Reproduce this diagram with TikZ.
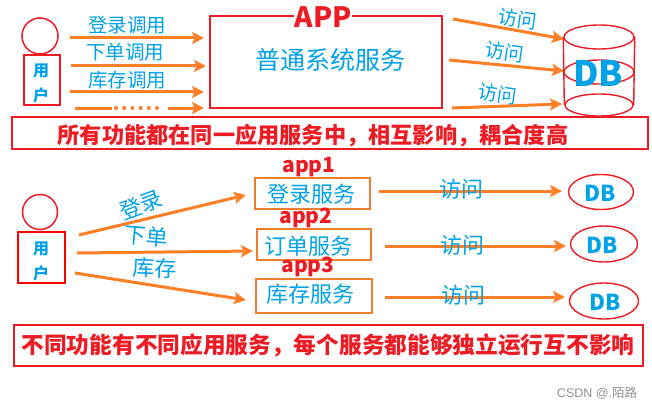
\documentclass[tikz,border=0pt]{standalone}
\usepackage{fontspec}
\setmainfont{Noto Sans CJK SC}
\newfontfamily\wmfont{Liberation Sans}
\usetikzlibrary{arrows.meta,shapes.geometric}
\definecolor{rd}{HTML}{ED1C24}
\definecolor{org}{HTML}{FF7F27}
\definecolor{boxorg}{HTML}{ED7D31}
\definecolor{blu}{HTML}{00A2E8}
\tikzset{
  fs/.style={font=\fontsize{#1}{#1}\selectfont},
  fsb/.style={font=\fontsize{#1}{#1}\selectfont\bfseries},
  flow/.style={draw=org,line width=3pt,-{Stealth[length=12pt,width=12pt,inset=2.5pt]}},
  redbox/.style={draw=rd,line width=2pt},
  orgbox/.style={draw=boxorg,line width=1.8pt},
  lbl/.style={text=blu,inner sep=0pt},
  rl/.style={text=rd,inner sep=0pt},
  head/.style={circle,draw=rd,line width=1.5pt,inner sep=0pt},
  ell/.style={ellipse,draw=rd,line width=1.4pt,inner sep=0pt},
}
\begin{document}
\begin{tikzpicture}[x=1pt,y=-1pt]
\useasboundingbox (0,0) rectangle (652,409);
\fill[white] (0,0) rectangle (652,409);
% top section
\node[head,minimum size=36pt] (h1) at (40,36) {};
\draw[redbox] (24,55) rectangle (60,105);
\node[lbl,fsb=16] (u1a) at (41,71) {用};
\node[lbl,fsb=16] (u1b) at (41,95) {户};
\coordinate (a1s) at (70,38); \coordinate (a1e) at (204,38);
\coordinate (a2s) at (71,66); \coordinate (a2e) at (206,66);
\coordinate (a3s) at (70,92); \coordinate (a3e) at (204,92);
\coordinate (a4s) at (75,108); \coordinate (a4a) at (112,108); \coordinate (a4b) at (116,108);
\coordinate (a4c) at (165,108); \coordinate (a4d) at (168,108); \coordinate (a4e) at (204,108);
\draw[flow] (a1s) -- (a1e);
\draw[flow] (a2s) -- (a2e);
\draw[flow] (a3s) -- (a3e);
\draw[draw=org,line width=3pt] (a4s) -- (a4a);
\draw[draw=org,line width=4pt,line cap=round,dash pattern=on 0pt off 8.2pt] (a4b) -- (a4c);
\draw[flow] (a4d) -- (a4e);
\node[lbl,fs=19.5] (t1) at (127,25) {登录调用};
\node[lbl,fs=19.5] (t2) at (125,52) {下单调用};
\node[lbl,fs=19.5] (t3) at (127,80) {库存调用};
\draw[redbox] (210,16) rectangle (442,108);
\node[fill=white,text=rd,fsb=28,inner sep=1pt] (app) at (323,17) {APP};
\node[lbl,fs=25] (svc) at (330,60) {普通系统服务};
\coordinate (b1s) at (453,19); \coordinate (b1e) at (564,39);
\coordinate (b2s) at (449,60); \coordinate (b2e) at (564,71);
\coordinate (b3s) at (452,108); \coordinate (b3e) at (562,104);
\draw[flow] (b1s) -- (b1e);
\draw[flow] (b2s) -- (b2e);
\draw[flow] (b3s) -- (b3e);
\node[lbl,fs=19.5,rotate=-8] (v1) at (518,19) {访问};
\node[lbl,fs=19.5,rotate=-8] (v2) at (505,52) {访问};
\node[lbl,fs=19.5,rotate=-8] (v3) at (498,94) {访问};
\node[ell,minimum width=70pt,minimum height=24pt] (c1) at (599,37) {};
\node[ell,minimum width=70pt,minimum height=24pt] (c2) at (599,72) {};
\node[ell,minimum width=68pt,minimum height=22pt] (c3) at (599,105) {};
\draw[rd,line width=1.4pt] (c1.west) -- (c3.west);
\draw[rd,line width=1.4pt] (c1.east) -- (c3.east);
\node[lbl,fsb=35] (db0) at (598,73) {DB};
\draw[redbox] (12,117) rectangle (648,149);
\node[rl,fsb=22.2] (m1) at (313,136) {所有功能都在同一应用服务中，相互影响，耦合度高};
% bottom section
\node[head,minimum size=35pt] (h2) at (40,212) {};
\draw[redbox,draw=red] (18,232) rectangle (65,283);
\node[lbl,fsb=16] (u2a) at (41,249) {用};
\node[lbl,fsb=16] (u2b) at (41,273) {户};
\coordinate (c1s) at (79,235); \coordinate (c1e) at (246,195);
\coordinate (c2s) at (77,253); \coordinate (c2e) at (253,251);
\coordinate (c3s) at (75,273); \coordinate (c3e) at (246,300);
\draw[flow] (c1s) -- (c1e);
\draw[flow] (c2s) -- (c2e);
\draw[flow] (c3s) -- (c3e);
\node[lbl,fs=22,rotate=20] (l1) at (141,205) {登录};
\node[lbl,fs=22,rotate=-5] (l2) at (146,236) {下单};
\node[lbl,fs=22,rotate=-2] (l3) at (155,268) {库存};
\draw[orgbox] (255,178) rectangle (370,209);
\draw[orgbox] (257,229) rectangle (371,260);
\draw[orgbox] (256,279) rectangle (372,313);
\node[lbl,fs=22] (s1) at (311,194) {登录服务};
\node[lbl,fs=22] (s2) at (308,246) {订单服务};
\node[lbl,fs=22] (s3) at (310,294) {库存服务};
\node[rl,fsb=21] (ap1) at (309,167) {app1};
\node[rl,fsb=21] (ap2) at (306,218) {app2};
\node[rl,fsb=21] (ap3) at (308,267) {app3};
\node[ell,minimum width=65pt,minimum height=35pt] (d1) at (601,192) {};
\node[ell,minimum width=67pt,minimum height=36pt] (d2) at (604,244) {};
\node[ell,minimum width=69pt,minimum height=36pt] (d3) at (604,301) {};
\coordinate (e1s) at (379,191); \coordinate (e1e) at (562,191);
\coordinate (e2s) at (385,246); \coordinate (e2e) at (566,246);
\coordinate (e3s) at (385,297); \coordinate (e3e) at (565,297);
\draw[flow] (e1s) -- (e1e);
\draw[flow] (e2s) -- (e2e);
\draw[flow] (e3s) -- (e3e);
\node[lbl,fs=22] (w1) at (461,189) {访问};
\node[lbl,fs=22] (w2) at (462,245) {访问};
\node[lbl,fs=22] (w3) at (463,295) {访问};
\node[lbl,fsb=22] (db1) at (600,193) {DB};
\node[lbl,fsb=22] (db2) at (602,245) {DB};
\node[lbl,fsb=22] (db3) at (605,302) {DB};
\draw[redbox] (14,325) rectangle (643,366);
\node[rl,fsb=22.7] (m2) at (328,345) {不同功能有不同应用服务，每个服务都能够独立运行互不影响};
\node[text=gray!85,font=\fontsize{12.5}{12.5}\selectfont,inner sep=0pt] (wm) at (597,393) {{\wmfont CSDN @.}陌路};
\end{tikzpicture}
\end{document}
